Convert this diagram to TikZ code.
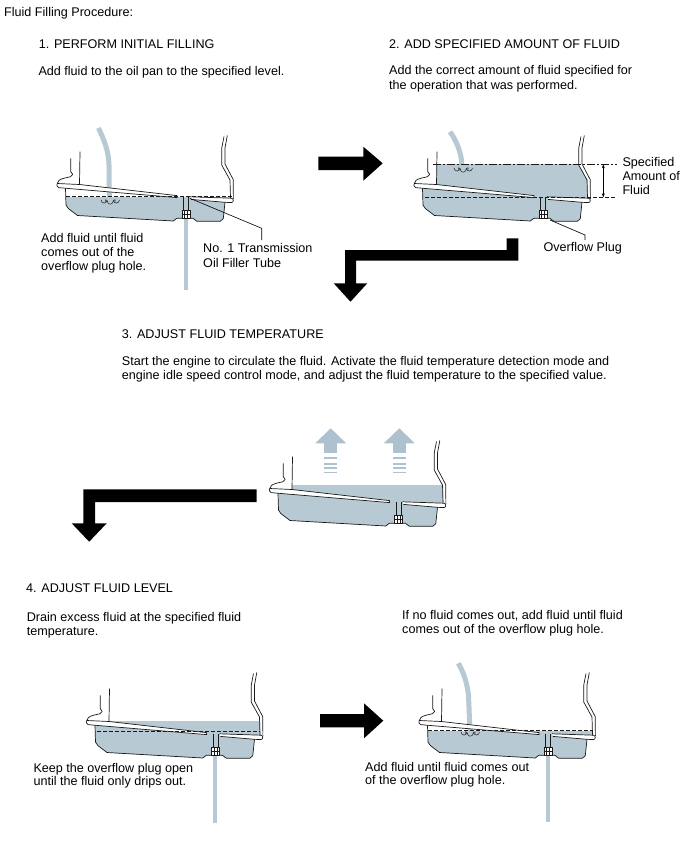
\documentclass[tikz,border=0pt]{standalone}
\usepackage{fontspec}
\setmainfont{Liberation Sans}
\usetikzlibrary{arrows.meta}
\definecolor{fluid}{HTML}{B7C9D3}
\definecolor{heat}{HTML}{ADC2CE}
\tikzset{
  pl/.style={draw=black!90,line width=0.7pt,line join=round},
  txt/.style={anchor=base west,inner sep=0pt,font=\fontsize{12.6}{14}\selectfont},
  bigarrow/.style={fill=black},
  hose/.style={draw=fluid,line width=5pt},
  stream/.style={draw=fluid,line width=4.5pt},
  dashln/.style={draw=black!90,line width=0.7pt,dash pattern=on 4pt off 2pt},
  dashdot/.style={draw=black!90,line width=0.7pt,dash pattern=on 8pt off 2pt on 2pt off 2pt},
  leader/.style={draw=black,line width=0.6pt}
}
\newcommand\panfill[1]{%
  \begin{scope}
    \clip (79.5,120) -- (79.5,185) -- (65.5,188.5) -- (66,205) -- (68.3,208.5) -- (77.5,215.5) -- (173.3,221) -- (176.7,218.3) -- (193,218.3) -- (196.7,221.2) -- (220.5,221.2) -- (223.3,218.5) -- (225,202.5) -- (231,202) -- (230.5,180) -- (222,165) -- (222,148) -- (224,120) -- cycle;
    \fill[fluid] (0,#1) rectangle (300,240);
  \end{scope}}
\newcommand\panlines{%
  \draw[pl] (70.7,158.3) -- (70.7,171.7) -- (72.7,174.3) -- (70.2,176.8) -- (64,178.2) .. controls (59.5,179.5) and (57.5,181) .. (57.3,183.5);
  \draw[pl] (80,151.7) -- (79.5,184.5);
  \filldraw[pl,fill=white] (57.3,183.5) -- (79.5,184.5) -- (177,195.6) -- (177.2,197.6) -- (65,188.2) -- (58.5,187.6) .. controls (56.5,187.2) and (56.5,184) .. (57.3,183.5) -- cycle;
  \filldraw[pl,fill=white] (190,196.8) -- (231.5,198.2) .. controls (233.8,198.5) and (233.8,202.4) .. (231.5,202.6) -- (225,202.3) -- (191,199.4);
  \draw[pl] (65.5,188.4) -- (66,205) -- (68.3,208.5) -- (77.5,215.5) -- (173.3,221) -- (176.7,218.3) -- (193,218.3) -- (196.7,221.2) -- (220.5,221.2) -- (223.3,218.5) -- (225,202.3);
  \draw[pl] (224,136.5) -- (221.7,148.3) -- (221.7,165) -- (230,180) -- (230.5,198.1);
  \draw[pl] (227.3,135.5) -- (225,148) -- (225,164) -- (233.2,179.5) -- (233.4,199);
  \draw[pl] (183.6,196.6) -- (183.6,210.5) (188.4,197) -- (188.4,210.5);
  \filldraw[pl,fill=white] (182,210.5) rectangle (190,218.3);
  \draw[pl,line width=0.5pt] (182,214) -- (190,214) (184.5,210.5) -- (184.5,218.3) (187.5,210.5) -- (187.5,218.3);
}
\newcommand\splash[2]{%
  \draw[pl,line width=0.5pt] (#1,#2) .. controls (#1+0.5,#2+4) and (#1+5.5,#2+4) .. (#1+6,#2+0.5)
    .. controls (#1+6.5,#2+5.5) and (#1+12,#2+5.5) .. (#1+12.5,#2+0.5)
    .. controls (#1+13,#2+4) and (#1+18,#2+4) .. (#1+18.5,#2);
  \draw[pl,line width=0.5pt] (#1+6,#2+0.5) .. controls (#1+5,#2-1.5) and (#1+3.5,#2) .. (#1+4.5,#2+1.5);
  \draw[pl,line width=0.5pt] (#1+12.5,#2+0.5) .. controls (#1+13.5,#2-1.5) and (#1+15,#2) .. (#1+14,#2+1.5);
}
\newcommand\heatarrow[1]{%
  \fill[heat] (#1-15.5,443.3) -- (#1,428.3) -- (#1+15.5,443.3) -- cycle;
  \fill[heat] (#1-6.5,443) rectangle (#1+6.5,453);
  \fill[heat] (#1-6.5,456.7) rectangle (#1+6.5,459.3);
  \fill[heat] (#1-6.5,462.7) rectangle (#1+6.5,464.7);
  \fill[heat] (#1-6.5,467.3) rectangle (#1+6.5,469.3);
  \fill[heat] (#1-6.5,471.7) rectangle (#1+6.5,473.3);
}
\begin{document}
\begin{tikzpicture}[x=1pt,y=-1pt]
\useasboundingbox[fill=white] (0,0) rectangle (688,852);

% ---------- texts ----------
\node[txt] (t0) at (4,16) {Fluid Filling Procedure:};
\node[txt] (t1) at (38.7,48.5) {1. PERFORM INITIAL FILLING};
\node[txt] (t1a) at (38.3,75.5) {Add fluid to the oil pan to the specified level.};
\node[txt] (t2) at (389,48.5) {2. ADD SPECIFIED AMOUNT OF FLUID};
\node[txt] (t2a) at (389,74.5) {Add the correct amount of fluid specified for};
\node[txt] (t2b) at (389,89) {the operation that was performed.};
\node[txt] (l1a) at (41,242.5) {Add fluid until fluid};
\node[txt] (l1b) at (41,256.5) {comes out of the};
\node[txt] (l1c) at (41,270.5) {overflow plug hole.};
\node[txt] (n1a) at (203,252.5) {No. 1 Transmission};
\node[txt] (n1b) at (203,267) {Oil Filler Tube};
\node[txt] (s1) at (622.3,166) {Specified};
\node[txt] (s2) at (622.3,180) {Amount of};
\node[txt] (s3) at (622.3,194) {Fluid};
\node[txt] (op) at (543.3,251) {Overflow Plug};
\node[txt] (t3) at (121.7,338) {3. ADJUST FLUID TEMPERATURE};
\node[txt] (t3a) at (121.7,365.5) {Start the engine to circulate the fluid. Activate the fluid temperature detection mode and};
\node[txt] (t3b) at (121.7,379) {engine idle speed control mode, and adjust the fluid temperature to the specified value.};
\node[txt] (t4) at (26,592) {4. ADJUST FLUID LEVEL};
\node[txt] (t4a) at (26.7,621) {Drain excess fluid at the specified fluid};
\node[txt] (t4b) at (26.7,635) {temperature.};
\node[txt] (r4a) at (402,619.5) {If no fluid comes out, add fluid until fluid};
\node[txt] (r4b) at (402,633.5) {comes out of the overflow plug hole.};
\node[txt] (k1) at (33.3,772) {Keep the overflow plug open};
\node[txt] (k2) at (33.3,785.5) {until the fluid only drips out.};
\node[txt] (a5a) at (365,771) {Add fluid until fluid comes out};
\node[txt] (a5b) at (365,784.5) {of the overflow plug hole.};

% ---------- pan 1 ----------
\draw[hose] (98.5,128) .. controls (104,140) and (108.5,150) .. (109,165) -- (109.3,199);
\panfill{196.7}
\panlines
\draw[dashln] (66,196.7) -- (232,196.7);
\splash{101}{200}
\draw[stream] (186.2,218.5) -- (186.2,290);
\coordinate (p1) at (190,198.3);
\coordinate (p1b) at (261.7,228.3);
\coordinate (p1c) at (261.7,240);
\draw[leader] (p1) -- (p1b) -- (p1c);

% ---------- pan 2 ----------
\draw[hose] (450,131.7) .. controls (456,140) and (460,150) .. (461.5,160) -- (461.7,166);
\begin{scope}[shift={(357,0)}]
  \panfill{164.3}
  \panlines
\end{scope}
\draw[dashdot] (433.3,164.3) -- (616.7,164.3);
\draw[dashln] (425,197.3) -- (616.7,197.3);
\splash{454}{168}
\coordinate (d1) at (603.3,164.3);
\coordinate (d2) at (603.3,197.3);
\draw[leader,{Stealth[length=4pt,width=3pt]}-{Stealth[length=4pt,width=3pt]}] (d1) -- (d2);
\coordinate (p2) at (550,220);
\coordinate (p2b) at (585,235);
\coordinate (p2c) at (585,240);
\draw[leader] (p2) -- (p2b) -- (p2c);

% ---------- pan 3 ----------
\begin{scope}[shift={(212.5,305)}]
  \panfill{180}
  \panlines
\end{scope}
\heatarrow{330.7}
\heatarrow{399.3}

% ---------- pan 4 ----------
\begin{scope}[shift={(29.5,537)}]
  \panfill{183.7}
  \panlines
\end{scope}
\draw[dashln] (97,731.7) -- (260,731.7);
\draw[stream] (215.2,755.5) -- (215.2,823.3);

% ---------- pan 5 ----------
\draw[hose] (458.3,663.3) .. controls (464,673) and (467,683) .. (468.5,695) -- (470,732);
\begin{scope}[shift={(362,537)}]
  \panfill{193.7}
  \panlines
\end{scope}
\draw[dashln] (428.3,730.7) -- (593.3,730.7);
\splash{461}{732}
\draw[stream] (548,755.5) -- (548,821.7);

% ---------- big arrows ----------
\fill[bigarrow] (318.3,156.7) -- (363.3,156.7) -- (363.3,146.7) -- (382.7,163.3) -- (363.3,180.7) -- (363.3,170) -- (318.3,170) -- cycle;
\fill[bigarrow] (506.7,238.3) -- (518.3,238.3) -- (518.3,260.7) -- (356,260.7) -- (356,283.3) -- (367.3,283.3) -- (350.5,301.7) -- (333.7,283.3) -- (345,283.3) -- (345,250) -- (506.7,250) -- cycle;
\fill[bigarrow] (256.7,489.3) -- (256.7,502) -- (95,502) -- (95,523.3) -- (106.7,523.3) -- (89.2,541.7) -- (71.7,523.3) -- (83.3,523.3) -- (83.3,489.3) -- cycle;
\fill[bigarrow] (320,714) -- (364,714) -- (364,703.3) -- (383.3,720.7) -- (364,738.3) -- (364,727.4) -- (320,727.4) -- cycle;
\end{tikzpicture}
\end{document}
